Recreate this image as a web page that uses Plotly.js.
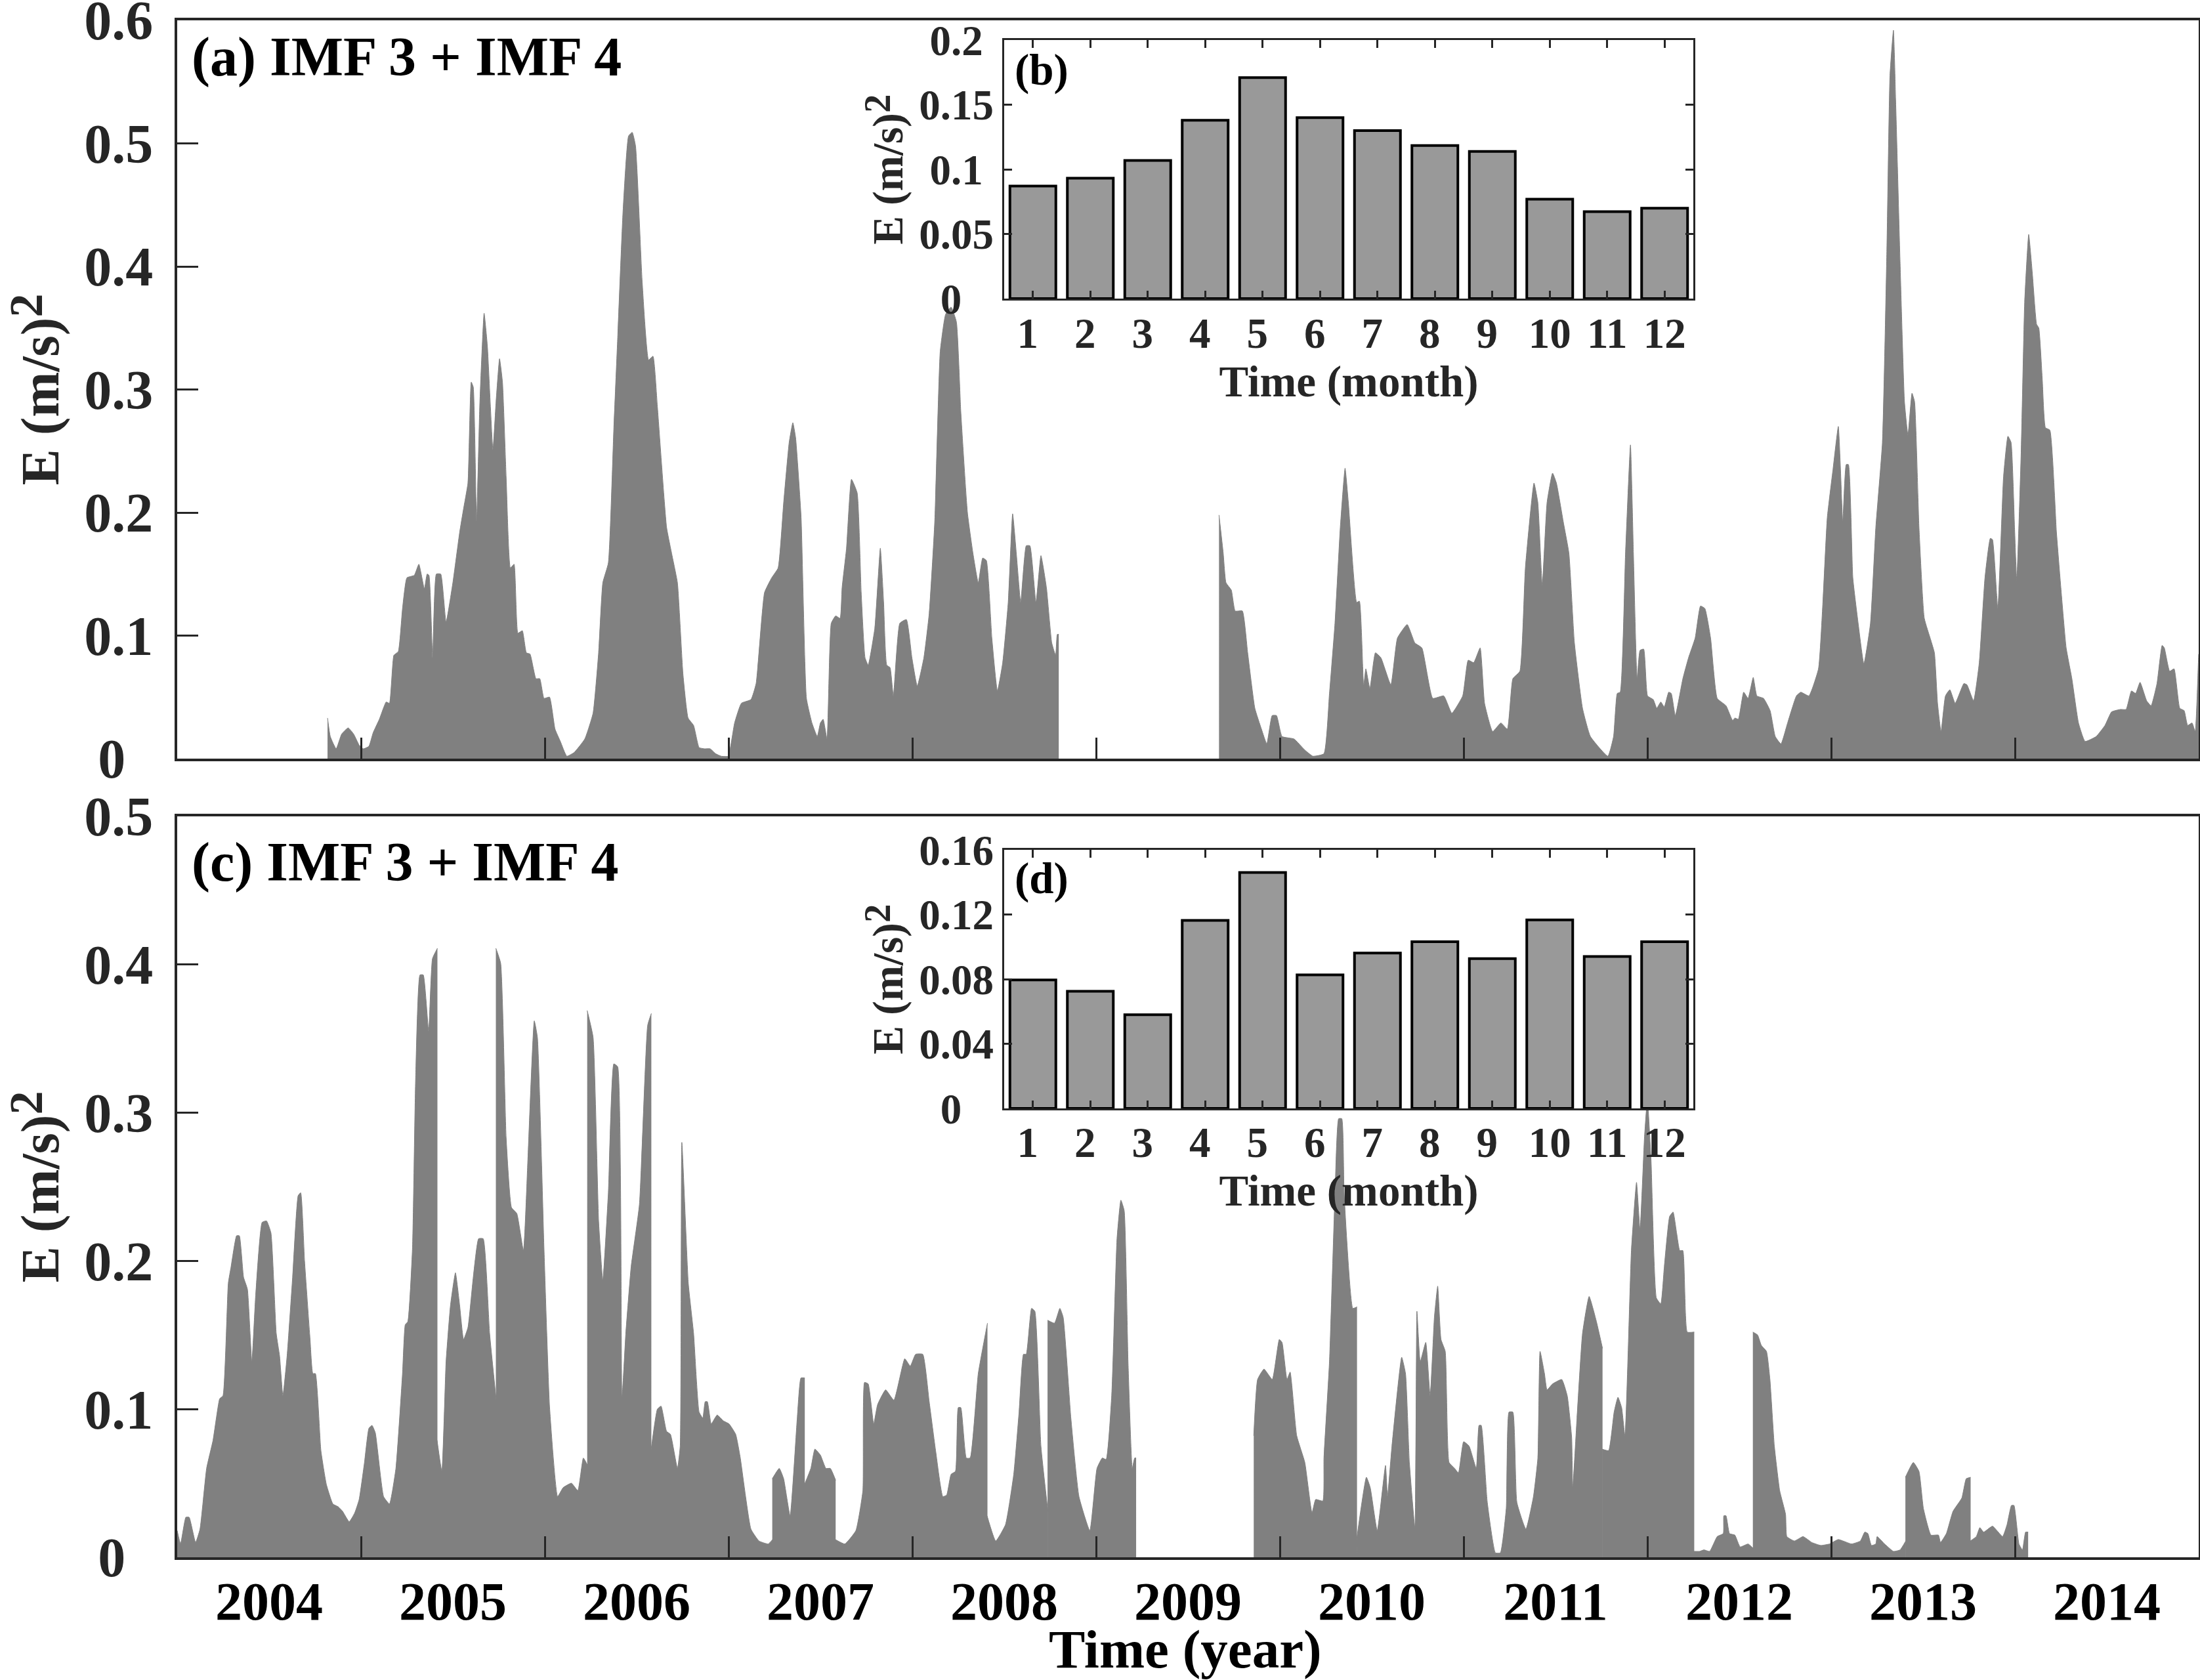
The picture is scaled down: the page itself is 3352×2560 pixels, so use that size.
<!DOCTYPE html>
<html>
<head>
<meta charset="utf-8">
<script src="https://cdn.plot.ly/plotly-3.0.1.min.js"></script>
<style>html,body{margin:0;padding:0;background:#fff}</style>
</head>
<body>
<div id="chart" style="width:3352px;height:2560px"></div>
<script>
const timeA = [
2004.818,2004.833,2004.865,2004.895,2004.93,2004.96,2004.99,2005.013,
2005.043,2005.066,2005.10,2005.137,2005.155,2005.179,2005.203,2005.226,2005.25,2005.29,
2005.315,2005.345,2005.36,2005.37,2005.39,2005.41,2005.434,2005.463,2005.50,2005.537,
2005.558,2005.582,2005.60,2005.611,2005.629,2005.647,2005.67,2005.688,2005.718,2005.735,
2005.754,2005.77,2005.79,2005.813,2005.833,2005.854,2005.878,2005.90,2005.92,2005.952,
2005.973,2005.996,2006.026,2006.056,2006.085,2006.12,2006.16,2006.218,2006.263,2006.293,
2006.316,2006.346,2006.376,2006.396,2006.426,2006.456,2006.476,2006.494,2006.53,2006.565,
2006.589,2006.613,2006.663,2006.693,2006.722,2006.752,2006.78,2006.81,2006.84,2006.87,
2006.9,2006.93,2006.96,2006.998,2007.033,2007.07,2007.122,2007.15,2007.196,2007.235,
2007.27,2007.30,2007.33,2007.35,2007.365,2007.395,2007.424,2007.454,2007.483,2007.50,
2007.515,2007.536,2007.559,2007.583,2007.607,2007.618,2007.642,2007.669,2007.70,2007.722,
2007.743,2007.76,2007.796,2007.826,2007.844,2007.861,2007.879,2007.897,2007.932,2007.968,
2007.998,2008.027,2008.063,2008.092,2008.122,2008.152,2008.181,2008.211,2008.24,2008.264,
2008.30,2008.33,2008.359,2008.383,2008.403,2008.433,2008.463,2008.492,2008.522,2008.546,
2008.566,2008.59,2008.62,2008.64,2008.673,2008.70,2008.73,2008.759,2008.78,2008.789,
2008.797,null,2009.669,2009.692,2009.707,2009.736,2009.757,2009.796,2009.825,
2009.864,2009.90,2009.929,2009.958,2009.982,2010.012,2010.077,2010.136,2010.18,2010.24,
2010.27,2010.30,2010.329,2010.355,2010.373,2010.418,2010.433,2010.456,2010.468,2010.49,
2010.52,2010.55,2010.604,2010.64,2010.693,2010.735,2010.773,2010.832,2010.892,2010.936,
2010.995,2011.025,2011.055,2011.09,2011.114,2011.158,2011.203,2011.238,2011.268,2011.306,
2011.336,2011.383,2011.404,2011.428,2011.454,2011.484,2011.505,2011.543,2011.573,2011.603,
2011.647,2011.69,2011.785,2011.816,2011.836,2011.852,2011.881,2011.908,2011.924,2011.944,
2011.96,2011.98,2012.001,2012.032,2012.051,2012.073,2012.092,2012.116,2012.13,2012.152,
2012.193,2012.224,2012.26,2012.289,2012.313,2012.344,2012.38,2012.428,2012.464,2012.476,
2012.495,2012.524,2012.548,2012.576,2012.596,2012.632,2012.668,2012.696,2012.727,2012.763,
2012.811,2012.835,2012.879,2012.931,2012.955,2012.979,2013.01,2013.039,2013.051,2013.063,
2013.082,2013.094,2013.118,2013.147,2013.178,2013.214,2013.243,2013.279,2013.303,2013.32,
2013.339,2013.351,2013.375,2013.399,2013.418,2013.44,2013.454,2013.478,2013.507,2013.543,
2013.562,2013.579,2013.598,2013.622,2013.646,2013.675,2013.722,2013.739,2013.775,2013.806,
2013.837,2013.866,2013.878,2013.907,2013.938,2013.962,2013.979,2013.998,2014.01,2014.034,
2014.053,2014.075,2014.094,2014.118,2014.13,2014.149,2014.166,2014.19,2014.226,2014.25,
2014.279,2014.31,2014.346,2014.382,2014.442,2014.49,2014.526,2014.574,2014.605,2014.634,
2014.657,2014.681,2014.717,2014.741,2014.773,2014.801,2014.813,2014.842,2014.866,2014.897,
2014.921,2014.94,2014.964,2014.981,2014.998,2015
];
const energyA = [
.033,.018,.008,.020,.025,.020,.011,.008,
.010,.021,.032,.046,.045,.084,.087,.122,.147,.149,
.158,.138,.150,.149,.082,.150,.150,.111,.143,.184,
.203,.224,.306,.302,.193,.29,.362,.335,.251,.29,
.325,.306,.229,.155,.158,.102,.104,.086,.085,.065,
.065,.049,.050,.024,.014,.002,.005,.016,.037,.086,
.143,.159,.269,.339,.445,.506,.509,.498,.388,.324,
.327,.286,.188,.165,.143,.069,.033,.027,.009,.008,
.008,.004,.002,.002,.029,.045,.048,.061,.135,.147,
.155,.208,.257,.273,.261,.196,.049,.029,.018,.029,
.032,.016,.110,.116,.114,.139,.171,.227,.216,.135,
.082,.076,.106,.171,.127,.076,.074,.051,.110,.113,
.082,.059,.082,.118,.192,.331,.361,.367,.355,.282,
.20,.167,.143,.163,.161,.098,.055,.078,.127,.199,
.167,.127,.173,.173,.127,.165,.139,.094,.084,.101,
.101,null,.198,.167,.143,.137,.120,.120,.086,
.041,.024,.012,.035,.035,.018,.016,.007,.002,.004,
.053,.11,.188,.236,.208,.127,.128,.059,.073,.057,
.086,.082,.060,.098,.109,.094,.090,.049,.051,.037,
.051,.080,.078,.090,.045,.022,.029,.024,.065,.071,
.155,.224,.208,.141,.208,.232,.224,.192,.167,.094,
.041,.018,.002,.018,.053,.054,.167,.255,.167,.065,
.088,.089,.051,.048,.041,.046,.042,.054,.053,.035,
.065,.082,.098,.124,.122,.098,.049,.043,.031,.033,
.032,.054,.049,.066,.051,.049,.039,.018,.012,.029,
.051,.054,.051,.073,.127,.196,.235,.270,.235,.192,
.239,.239,.147,.110,.077,.110,.188,.257,.412,.555,
.592,.535,.404,.290,.263,.297,.290,.188,.114,.096,
.086,.045,.022,.051,.056,.045,.061,.060,.047,.078,
.147,.179,.178,.122,.229,.262,.257,.188,.145,.249,
.371,.426,.396,.353,.350,.308,.269,.267,.184,.139,
.090,.065,.029,.014,.018,.027,.038,.040,.040,.055,
.053,.062,.047,.043,.061,.092,.090,.071,.073,.041,
.039,.027,.029,.022,.078,.085
];
const timeC = [
2004,2004.018,2004.047,2004.065,2004.10,2004.124,2004.16,2004.195,2004.213,2004.231,
2004.249,2004.278,2004.293,2004.323,2004.338,2004.361,2004.382,2004.406,2004.427,2004.462,
2004.486,2004.51,2004.539,2004.557,2004.575,2004.598,2004.628,2004.658,2004.672,2004.693,
2004.723,2004.738,2004.752,2004.782,2004.812,2004.847,2004.877,2004.90,2004.936,2004.966,
2004.99,2005.019,2005.043,2005.06,2005.078,2005.123,2005.155,2005.19,2005.226,2005.241,
2005.255,2005.28,2005.297,2005.321,2005.339,2005.368,2005.389,2005.416,null,2005.414,2005.44,
2005.463,2005.487,2005.514,2005.537,2005.558,2005.582,2005.611,2005.64,2005.665,2005.70,
2005.736,null,2005.734,2005.76,2005.79,2005.819,2005.848,2005.884,2005.908,2005.943,2005.96,
2005.996,2006.026,2006.07,2006.10,2006.145,2006.18,2006.21,2006.233,null,2006.231,2006.263,
2006.293,2006.316,2006.346,2006.376,2006.397,2006.42,2006.441,2006.47,2006.515,2006.56,
2006.58,null,2006.578,2006.613,2006.633,2006.663,2006.684,2006.722,2006.737,2006.746,2006.781,
2006.81,2006.84,2006.86,2006.873,2006.885,2006.906,2006.938,2006.973,2007.003,2007.039,
2007.063,2007.122,2007.166,2007.216,2007.24,null,2007.238,2007.276,2007.30,2007.335,2007.374,
2007.394,2007.415,null,2007.413,2007.448,2007.47,2007.50,2007.53,2007.554,2007.583,null,2007.581,
2007.633,2007.693,2007.731,2007.74,2007.76,2007.79,2007.811,2007.855,2007.90,2007.959,
2007.989,2008.018,2008.057,2008.092,2008.128,2008.166,2008.187,2008.211,2008.235,2008.25,
2008.264,2008.294,2008.315,2008.359,2008.409,null,2008.407,2008.454,2008.507,2008.552,2008.581,
2008.605,2008.62,2008.649,2008.667,2008.70,2008.738,null,2008.736,2008.774,2008.803,2008.821,
2008.863,2008.907,2008.966,2009.005,2009.034,2009.055,2009.085,2009.114,2009.135,2009.153,
2009.174,2009.197,2009.21,2009.218,null,2009.858,2009.879,2009.914,2009.959,
2009.997,2010.012,2010.039,2010.056,2010.092,2010.136,2010.175,2010.195,2010.234,2010.24,
2010.27,2010.30,2010.32,2010.337,2010.35,2010.397,2010.42,null,2010.418,2010.471,2010.492,
2010.53,2010.575,2010.586,2010.61,2010.663,2010.684,2010.705,2010.735,2010.746,2010.764,
2010.794,2010.818,2010.841,2010.859,2010.877,2010.90,2010.921,2010.951,2010.972,2011.0,
2011.03,2011.069,2011.084,2011.096,2011.129,2011.173,2011.20,2011.232,2011.247,2011.268,
2011.29,2011.339,2011.38,2011.404,2011.416,2011.44,2011.454,2011.484,2011.534,2011.564,
2011.588,2011.594,2011.617,2011.647,2011.683,2011.721,2011.756,null,2011.754,2011.789,2011.819,
2011.84,2011.86,2011.878,2011.913,2011.941,2011.96,2011.984,2012.0,2012.02,2012.049,
2012.073,2012.092,2012.121,2012.14,2012.159,2012.176,2012.193,2012.217,2012.255,null,2012.253,
2012.284,2012.308,2012.339,2012.38,2012.413,2012.416,2012.428,2012.447,2012.476,2012.505,
2012.548,2012.576,null,2012.574,2012.60,2012.62,2012.648,2012.667,2012.691,2012.72,2012.752,
2012.759,2012.80,2012.847,2012.895,2012.943,2012.991,2013.039,2013.111,2013.159,2013.183,
2013.2,2013.219,2013.243,2013.25,2013.291,2013.339,2013.375,2013.406,null,2013.404,2013.447,
2013.478,2013.502,2013.543,2013.584,2013.595,2013.627,2013.663,2013.711,2013.735,2013.759,null,
2013.757,2013.79,2013.809,2013.83,2013.878,2013.933,2013.957,2013.981,2013.995,2014.022,
2014.041,2014.058,2014.072
];
const energyC = [
.018,.009,.027,.027,.010,.019,.060,.079,.094,.107,
.109,.185,.196,.217,.217,.189,.181,.132,.177,.226,
.227,.219,.151,.136,.109,.136,.189,.244,.246,.200,
.147,.124,.124,.072,.049,.036,.034,.031,.024,.030,
.039,.064,.087,.089,.084,.041,.036,.060,.124,.157,
.159,.208,.321,.393,.393,.355,.404,.411,null,.079,.058,
.132,.170,.192,.170,.147,.155,.189,.215,.215,.151,
.106,null,.411,.401,.283,.236,.232,.207,.268,.362,.351,
.208,.102,.041,.047,.050,.045,.067,.062,null,.369,.351,
.227,.187,.246,.333,.331,.107,.151,.196,.238,.359,
.367,null,.072,.100,.102,.085,.083,.060,.075,.280,.185,
.151,.098,.094,.105,.105,.090,.096,.092,.090,.083,
.068,.019,.011,.009,.012,null,.053,.060,.053,.028,.094,
.121,.121,null,.049,.060,.073,.069,.060,.060,.052,null,.012,
.009,.018,.045,.118,.117,.090,.103,.113,.106,.134,
.129,.137,.137,.105,.071,.041,.042,.056,.058,.101,
.101,.067,.067,.124,.158,null,.028,.011,.022,.056,.098,
.137,.137,.168,.166,.075,.031,null,.160,.158,.168,.162,
.094,.041,.018,.060,.067,.066,.109,.215,.241,.234,
.132,.060,.067,.067,null,.082,.120,.127,.120,
.147,.145,.120,.125,.082,.064,.030,.039,.038,.067,
.132,.245,.296,.296,.245,.168,.169,null,.012,.054,.047,
.018,.062,.041,.075,.135,.124,.064,.020,.166,.132,
.145,.109,.162,.183,.147,.139,.064,.060,.057,.078,
.075,.060,.089,.089,.037,.003,.003,.033,.098,.098,
.037,.019,.041,.067,.139,.124,.113,.117,.120,.109,
.081,.047,.094,.151,.176,.160,.141,null,.073,.072,.098,
.108,.101,.082,.207,.253,.221,.283,.309,.268,.175,
.171,.196,.230,.233,.219,.207,.207,.152,.152,null,.004,
.004,.005,.004,.014,.016,.028,.028,.016,.015,.007,
.009,.006,null,.152,.150,.143,.139,.120,.075,.045,.029,
.014,.011,.014,.010,.008,.009,.012,.009,.011,.017,
.016,.008,.009,.014,.009,.004,.005,.011,null,.054,.064,
.058,.033,.015,.015,.010,.016,.031,.040,.053,.054,null,
.011,.014,.020,.017,.021,.014,.022,.035,.035,.009,
.005,.017,.017
];
const months = [1,2,3,4,5,6,7,8,9,10,11,12];
const monthLabels = ['1\u00a0','2\u00a0','3\u00a0','4\u00a0','5\u00a0','6\u00a0','7\u00a0','8\u00a0','9\u00a0','10','11','12'];
const barB = [.087,.0932,.1068,.138,.171,.140,.130,.1184,.1138,.0769,.0672,.0699];
const barD = [.0795,.0725,.058,.1163,.146,.0826,.0961,.1031,.0927,.1166,.094,.1031];
const yearEdges = [2005,2006,2007,2008,2009,2010,2011,2012,2013,2014];
const yearCentres = [2004.5,2005.5,2006.5,2007.5,2008.5,2009.5,2010.5,2011.5,2012.5,2013.5,2014.5];
const yearLabels = ['2004','2005','2006','2007','2008','2009','2010','2011','2012','2013','2014'];
const ticksA = [0,.1,.2,.3,.4,.5,.6];
const ticksALabels = ['0\u00a0\u00a0','0.1','0.2','0.3','0.4','0.5','0.6'];
const ticksC = [0,.1,.2,.3,.4,.5];
const ticksCLabels = ['0\u00a0\u00a0','0.1','0.2','0.3','0.4','0.5'];
const ticksB = [0,.05,.1,.15,.2];
const ticksBLabels = ['0\u00a0\u00a0\u00a0','0.05','0.1\u00a0','0.15','0.2\u00a0'];
const ticksD = [0,.04,.08,.12,.16];
const ticksDLabels = ['0\u00a0\u00a0\u00a0','0.04','0.08','0.12','0.16'];

const W = 3352, H = 2560;
const SERIF = '"Liberation Serif","Times New Roman",serif';
const DARK = '#262626';
const fx = p => p / W;
const fy = p => 1 - p / H;
const f = (size, color) => ({family: SERIF, size: size, color: color || DARK, weight: 700});

function frame(lw) {
  return {showline: true, linecolor: DARK, linewidth: lw, mirror: true, showgrid: false, zeroline: false, fixedrange: true, ticklabeloverflow: 'allow'};
}
function energyTitle(size, standoff) {
  return {
    text: '<span style="font-size:' + size + 'px">E (m/s)</span><sup><span style="font-size:' + Math.round(size * 0.87) + 'px">2</span></sup>',
    font: f(Math.round(size * 0.72)),
    standoff: standoff
  };
}
const AREA_LINE = {color: '#808080', width: 1, shape: 'spline', smoothing: 0.4};

// each unbroken run of the series is one filled area, so its edges drop straight to zero
function areaTraces(times, energies, xa, ya) {
  const out = [];
  let run = {x: [], y: []};
  times.forEach((t, i) => {
    if (t === null) { out.push(run); run = {x: [], y: []}; }
    else { run.x.push(t); run.y.push(energies[i]); }
  });
  out.push(run);
  return out.map(r => ({x: r.x, y: r.y, type: 'scatter', mode: 'lines', fill: 'tozeroy', fillcolor: '#808080', line: AREA_LINE, xaxis: xa, yaxis: ya, hoverinfo: 'skip'}));
}

const traces = [
  ...areaTraces(timeA, energyA, 'x', 'y'),
  ...areaTraces(timeC, energyC, 'x2', 'y2'),
  {x: months, y: barB, type: 'bar', width: 0.8, marker: {color: '#999999', line: {color: '#000000', width: 4}}, xaxis: 'x3', yaxis: 'y3', hoverinfo: 'skip'},
  {x: months, y: barD, type: 'bar', width: 0.8, marker: {color: '#999999', line: {color: '#000000', width: 4}}, xaxis: 'x4', yaxis: 'y4', hoverinfo: 'skip'}
];

const layout = {
  width: W, height: H,
  margin: {l: 0, r: 0, t: 0, b: 0},
  paper_bgcolor: '#ffffff', plot_bgcolor: '#ffffff',
  showlegend: false,
  font: {family: SERIF},
  xaxis: Object.assign(frame(4), {
    domain: [fx(270), fx(3350)], range: [2004, 2015], anchor: 'y',
    tickmode: 'array', tickvals: yearEdges, ticks: 'inside', ticklen: 32, tickwidth: 3, tickcolor: DARK, showticklabels: false
  }),
  yaxis: Object.assign(frame(4), {
    domain: [fy(1156), fy(31)], range: [0, .6], anchor: 'x',
    tickmode: 'array', tickvals: ticksA, ticktext: ticksALabels, ticks: 'inside', ticklen: 32, tickwidth: 3, tickcolor: DARK,
    tickfont: f(84), ticklabelstandoff: 16, title: energyTitle(83, 50)
  }),
  xaxis2: Object.assign(frame(4), {
    domain: [fx(270), fx(3350)], range: [2004, 2015], anchor: 'y2',
    tickmode: 'array', tickvals: yearCentres, ticktext: yearLabels, ticks: '', tickfont: f(82, '#000000'), ticklabelstandoff: -7,
    minor: {tickmode: 'array', tickvals: yearEdges, ticks: 'inside', ticklen: 32, tickwidth: 3, tickcolor: DARK, showgrid: false}
  }),
  yaxis2: Object.assign(frame(4), {
    domain: [fy(2373), fy(1244)], range: [0, .5], anchor: 'x2',
    tickmode: 'array', tickvals: ticksC, ticktext: ticksCLabels, ticks: 'inside', ticklen: 32, tickwidth: 3, tickcolor: DARK,
    tickfont: f(84), ticklabelstandoff: 16, title: energyTitle(83, 50)
  }),
  xaxis3: Object.assign(frame(3), {
    domain: [fx(1530), fx(2580)], range: [.5, 12.5], anchor: 'y3', mirror: 'allticks',
    tickmode: 'array', tickvals: months, ticktext: monthLabels, ticks: 'inside', ticklen: 12, tickwidth: 3, tickcolor: DARK,
    tickfont: f(65), ticklabelstandoff: -6, title: {text: 'Time (month)', font: f(67), standoff: 8}
  }),
  yaxis3: Object.assign(frame(3), {
    domain: [fy(455), fy(61)], range: [0, .2], anchor: 'x3', mirror: 'allticks',
    tickmode: 'array', tickvals: ticksB, ticktext: ticksBLabels, ticks: 'inside', ticklen: 12, tickwidth: 3, tickcolor: DARK,
    tickfont: f(65), ticklabelstandoff: 0, title: energyTitle(65, 10)
  }),
  xaxis4: Object.assign(frame(3), {
    domain: [fx(1530), fx(2580)], range: [.5, 12.5], anchor: 'y4', mirror: 'allticks',
    tickmode: 'array', tickvals: months, ticktext: monthLabels, ticks: 'inside', ticklen: 12, tickwidth: 3, tickcolor: DARK,
    tickfont: f(65), ticklabelstandoff: -7, title: {text: 'Time (month)', font: f(67), standoff: 8}
  }),
  yaxis4: Object.assign(frame(3), {
    domain: [fy(1689), fy(1295)], range: [0, .16], anchor: 'x4', mirror: 'allticks',
    tickmode: 'array', tickvals: ticksD, ticktext: ticksDLabels, ticks: 'inside', ticklen: 12, tickwidth: 3, tickcolor: DARK,
    tickfont: f(65), ticklabelstandoff: 0, title: energyTitle(65, 10)
  }),
  annotations: [
    {text: '(a) IMF 3 + IMF 4', xref: 'paper', yref: 'paper', x: fx(290), y: fy(87), xanchor: 'left', yanchor: 'middle', showarrow: false, font: f(84, '#000000')},
    {text: '(c) IMF 3 + IMF 4', xref: 'paper', yref: 'paper', x: fx(290), y: fy(1314), xanchor: 'left', yanchor: 'middle', showarrow: false, font: f(84, '#000000')},
    {text: '(b)', xref: 'paper', yref: 'paper', x: fx(1544), y: fy(107), xanchor: 'left', yanchor: 'middle', showarrow: false, font: f(67, '#000000')},
    {text: '(d)', xref: 'paper', yref: 'paper', x: fx(1544), y: fy(1338), xanchor: 'left', yanchor: 'middle', showarrow: false, font: f(67, '#000000')},
    {text: 'Time (year)', xref: 'paper', yref: 'paper', x: fx(1806), y: fy(2513), xanchor: 'center', yanchor: 'middle', showarrow: false, font: f(83, '#000000')}
  ]
};

Plotly.newPlot('chart', traces, layout, {staticPlot: true, displayModeBar: false});
</script>
</body>
</html>
